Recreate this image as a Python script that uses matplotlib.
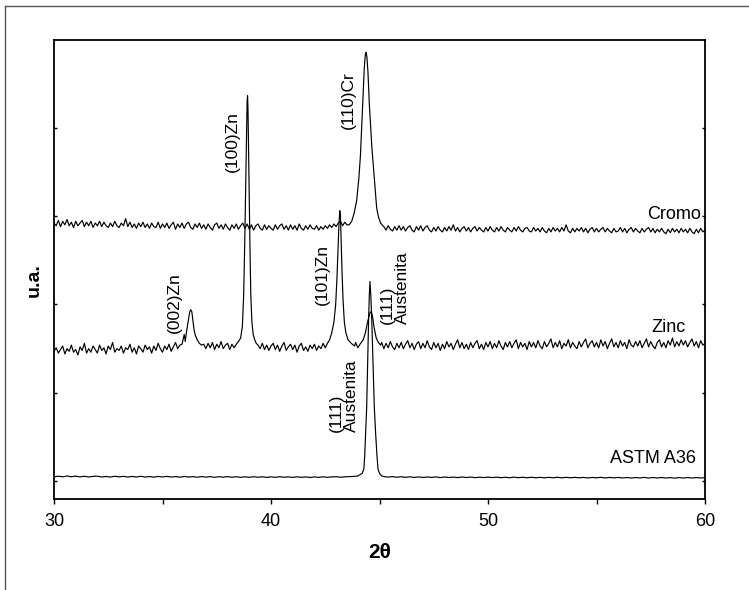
import numpy as np
import matplotlib.pyplot as plt
from matplotlib.lines import Line2D

plt.rcParams.update({
    'font.family': ['Liberation Sans', 'DejaVu Sans'],
    'font.size': 13,
})

# scan grids (2theta, degrees)
two_theta_fine = np.linspace(30, 60, 301)     # Zinc / Cromo step 0.1
two_theta_coarse = np.linspace(30, 60, 151)   # ASTM A36 step 0.2

# ---------------------------------------------------------------------------
# backgrounds (stacked intensity, arbitrary units)
# ---------------------------------------------------------------------------
zinc_bg = [
    1.47, 1.51, 1.45, 1.49, 1.53, 1.44, 1.50, 1.47, 1.54, 1.46,
    1.49, 1.43, 1.52, 1.48, 1.56, 1.45, 1.50, 1.46, 1.53, 1.49,
    1.45, 1.54, 1.48, 1.51, 1.44, 1.53, 1.49, 1.57, 1.46, 1.50,
    1.48, 1.53, 1.45, 1.51, 1.49, 1.55, 1.46, 1.51, 1.44, 1.53,
    1.50, 1.46, 1.54, 1.49, 1.52, 1.45, 1.53, 1.48, 1.56, 1.50,
    1.46, 1.53, 1.49, 1.55, 1.47, 1.52, 1.57, 1.50, 1.54, 1.55,
    1.60, 1.70, 1.85, 1.94, 1.80, 1.62, 1.57, 1.55, 1.52, 1.55,
    1.50, 1.56, 1.51, 1.57, 1.49, 1.55, 1.51, 1.58, 1.50, 1.54,
    1.56, 1.49, 1.55, 1.51, 1.57, 1.55, 1.58, 1.62, 1.90, 4.30,
    2.10, 1.75, 1.62, 1.57, 1.55, 1.50, 1.56, 1.49, 1.54, 1.48,
    1.53, 1.56, 1.49, 1.54, 1.47, 1.53, 1.57, 1.48, 1.52, 1.55,
    1.49, 1.54, 1.46, 1.53, 1.56, 1.48, 1.52, 1.47, 1.54, 1.50,
    1.55, 1.48, 1.53, 1.50, 1.56, 1.51, 1.57, 1.60, 1.68, 1.80,
    2.20, 2.90, 3.00, 2.05, 1.70, 1.60, 1.55, 1.57, 1.52, 1.57,
    1.51, 1.56, 1.62, 1.70, 1.85, 1.90, 1.86, 1.70, 1.60, 1.56,
    1.52, 1.57, 1.50, 1.56, 1.51, 1.58, 1.52, 1.49, 1.56, 1.51,
    1.57, 1.50, 1.55, 1.59, 1.51, 1.56, 1.49, 1.55, 1.58, 1.50,
    1.56, 1.51, 1.59, 1.52, 1.49, 1.57, 1.51, 1.56, 1.48, 1.55,
    1.50, 1.58, 1.52, 1.56, 1.49, 1.55, 1.60, 1.51, 1.57, 1.50,
    1.55, 1.49, 1.57, 1.51, 1.56, 1.59, 1.50, 1.55, 1.49, 1.57,
    1.52, 1.58, 1.50, 1.56, 1.51, 1.59, 1.53, 1.49, 1.57, 1.52,
    1.58, 1.51, 1.56, 1.60, 1.50, 1.57, 1.52, 1.56, 1.49, 1.58,
    1.52, 1.57, 1.51, 1.59, 1.53, 1.50, 1.58, 1.52, 1.56, 1.61,
    1.51, 1.57, 1.52, 1.59, 1.50, 1.56, 1.53, 1.60, 1.51, 1.57,
    1.53, 1.50, 1.58, 1.52, 1.57, 1.61, 1.51, 1.56, 1.59, 1.52,
    1.57, 1.51, 1.60, 1.53, 1.58, 1.50, 1.56, 1.61, 1.52, 1.57,
    1.51, 1.59, 1.53, 1.57, 1.50, 1.60, 1.54, 1.52, 1.58, 1.53,
    1.59, 1.51, 1.56, 1.61, 1.52, 1.58, 1.53, 1.50, 1.57, 1.60,
    1.52, 1.57, 1.51, 1.59, 1.54, 1.62, 1.52, 1.58, 1.53, 1.60,
    1.54, 1.59, 1.52, 1.57, 1.61, 1.53, 1.58, 1.51, 1.59, 1.54,
    1.56,
]

cromo_bg = [
    2.92, 2.89, 2.95, 2.88, 2.94, 2.90, 2.96, 2.89, 2.93, 2.87,
    2.94, 2.89, 2.92, 2.95, 2.88, 2.93, 2.89, 2.94, 2.87, 2.92,
    2.89, 2.94, 2.88, 2.93, 2.89, 2.87, 2.92, 2.88, 2.94, 2.89,
    2.87, 2.92, 2.89, 2.97, 2.88, 2.93, 2.87, 2.91, 2.86, 2.92,
    2.88, 2.93, 2.87, 2.91, 2.86, 2.92, 2.88, 2.87, 2.93, 2.86,
    2.91, 2.87, 2.92, 2.86, 2.90, 2.93, 2.85, 2.91, 2.87, 2.92,
    2.86, 2.91, 2.93, 2.87, 2.85, 2.91, 2.87, 2.92, 2.86, 2.90,
    2.85, 2.91, 2.87, 2.84, 2.90, 2.92, 2.86, 2.90, 2.85, 2.91,
    2.87, 2.84, 2.90, 2.86, 2.91, 2.85, 2.89, 2.92, 2.86, 2.91,
    2.85, 2.90, 2.84, 2.89, 2.91, 2.86, 2.84, 2.90, 2.85, 2.89,
    2.86, 2.84, 2.90, 2.85, 2.89, 2.91, 2.85, 2.89, 2.84, 2.90,
    2.85, 2.89, 2.84, 2.91, 2.86, 2.84, 2.89, 2.85, 2.90, 2.86,
    2.85, 2.89, 2.84, 2.88, 2.85, 2.89, 2.86, 2.90, 2.87, 2.91,
    2.88, 2.92, 2.94, 2.89, 2.93, 2.90, 2.91, 2.92, 2.94, 3.00,
    3.30, 3.70, 4.40, 4.85, 4.60, 4.00, 3.60, 3.30, 3.10, 2.99,
    2.92, 2.89, 2.88, 2.84, 2.89, 2.85, 2.83, 2.88, 2.84, 2.89,
    2.84, 2.88, 2.83, 2.87, 2.89, 2.84, 2.82, 2.88, 2.84, 2.89,
    2.83, 2.87, 2.89, 2.84, 2.82, 2.87, 2.83, 2.88, 2.84, 2.82,
    2.87, 2.83, 2.88, 2.84, 2.90, 2.83, 2.87, 2.82, 2.86, 2.88,
    2.83, 2.87, 2.82, 2.86, 2.88, 2.83, 2.87, 2.84, 2.82, 2.87,
    2.83, 2.88, 2.84, 2.82, 2.87, 2.83, 2.88, 2.84, 2.82, 2.87,
    2.84, 2.82, 2.87, 2.83, 2.88, 2.84, 2.82, 2.86, 2.87, 2.83,
    2.82, 2.87, 2.83, 2.86, 2.82, 2.87, 2.83, 2.81, 2.86, 2.82,
    2.87, 2.83, 2.86, 2.82, 2.87, 2.83, 2.90, 2.83, 2.81, 2.86,
    2.82, 2.86, 2.83, 2.87, 2.82, 2.86, 2.81, 2.85, 2.87, 2.82,
    2.86, 2.82, 2.85, 2.87, 2.82, 2.86, 2.83, 2.81, 2.86, 2.82,
    2.83, 2.87, 2.82, 2.86, 2.81, 2.85, 2.87, 2.82, 2.86, 2.83,
    2.81, 2.86, 2.82, 2.85, 2.87, 2.82, 2.86, 2.81, 2.85, 2.82,
    2.86, 2.82, 2.80, 2.85, 2.81, 2.86, 2.82, 2.85, 2.81, 2.86,
    2.82, 2.85, 2.81, 2.86, 2.82, 2.80, 2.85, 2.81, 2.86, 2.82,
    2.84,
]

astm_bg = [
    0.050, 0.058, 0.051, 0.060, 0.052,
    0.059, 0.050, 0.057, 0.049, 0.056,
    0.058, 0.049, 0.055, 0.048, 0.057,
    0.050, 0.056, 0.048, 0.055, 0.049,
    0.057, 0.048, 0.054, 0.047, 0.055,
    0.049, 0.056, 0.048, 0.054, 0.046,
    0.055, 0.048, 0.053, 0.046, 0.054,
    0.047, 0.053, 0.045, 0.052, 0.047,
    0.053, 0.046, 0.052, 0.045, 0.051,
    0.045, 0.052, 0.046, 0.051, 0.044,
    0.051, 0.045, 0.052, 0.046, 0.050,
    0.044, 0.051, 0.045, 0.050, 0.043,
    0.050, 0.044, 0.051, 0.045, 0.050,
    0.052, 0.046, 0.051, 0.053, 0.055,
    0.060, 0.090, 0.600, 0.300, 0.070,
    0.058, 0.051, 0.048, 0.053, 0.046,
    0.052, 0.045, 0.051, 0.044, 0.050,
    0.043, 0.049, 0.044, 0.050, 0.042,
    0.049, 0.043, 0.048, 0.042, 0.049,
    0.043, 0.048, 0.041, 0.047, 0.042,
    0.048, 0.042, 0.047, 0.041, 0.046,
    0.040, 0.047, 0.041, 0.046, 0.040,
    0.046, 0.040, 0.045, 0.039, 0.045,
    0.040, 0.046, 0.039, 0.045, 0.040,
    0.045, 0.039, 0.044, 0.038, 0.044,
    0.039, 0.045, 0.038, 0.044, 0.039,
    0.044, 0.038, 0.043, 0.037, 0.043,
    0.038, 0.044, 0.037, 0.043, 0.038,
    0.043, 0.037, 0.042, 0.036, 0.042,
    0.037, 0.043, 0.037, 0.042, 0.038,
    0.040,
]

# ---------------------------------------------------------------------------
# peak regions (denser reading)
# ---------------------------------------------------------------------------
zinc_002_x = [35.9, 36.0, 36.05, 36.1, 36.2, 36.25, 36.3, 36.35, 36.4, 36.45, 36.5, 36.6, 36.7, 36.8]
zinc_002_y = [1.55, 1.66, 1.58, 1.68, 1.83, 1.91, 1.94, 1.92, 1.82, 1.72, 1.66, 1.60, 1.56, 1.54]

zinc_100_x = [38.4, 38.5, 38.6, 38.68, 38.74, 38.79, 38.83, 38.87, 38.9, 38.92,
              38.94, 38.96, 38.99, 39.03, 39.07, 39.12, 39.18, 39.25, 39.32, 39.4]
zinc_100_y = [1.55, 1.58, 1.62, 1.75, 2.10, 2.70, 3.30, 3.90, 4.30, 4.36,
              4.20, 3.85, 3.30, 2.65, 2.10, 1.80, 1.66, 1.60, 1.56, 1.54]

zinc_101_x = [42.6, 42.7, 42.8, 42.9, 42.98, 43.04, 43.09, 43.13, 43.17, 43.2,
              43.23, 43.27, 43.32, 43.38, 43.45, 43.55, 43.7, 43.85]
zinc_101_y = [1.56, 1.60, 1.68, 1.80, 2.00, 2.30, 2.65, 2.90, 3.06, 3.00,
              2.75, 2.40, 2.05, 1.80, 1.68, 1.60, 1.56, 1.53]

zinc_111_x = [44.1, 44.25, 44.35, 44.45, 44.55, 44.62, 44.68, 44.75, 44.85, 44.95, 45.05]
zinc_111_y = [1.55, 1.60, 1.68, 1.80, 1.90, 1.92, 1.86, 1.74, 1.62, 1.57, 1.54]

cromo_110_x = [43.6, 43.72, 43.84, 43.95, 44.05, 44.12, 44.18, 44.24, 44.3, 44.35, 44.38,
               44.42, 44.47, 44.53, 44.59, 44.65, 44.72, 44.8, 44.87, 44.95, 45.05, 45.15]
cromo_110_y = [2.90, 2.94, 3.04, 3.18, 3.43, 3.68, 4.02, 4.38, 4.68, 4.83, 4.85,
               4.80, 4.62, 4.27, 4.02, 3.77, 3.55, 3.29, 3.09, 2.99, 2.92, 2.89]

astm_111_x = [44.0, 44.2, 44.28, 44.32, 44.36, 44.41, 44.45, 44.5, 44.53, 44.56,
              44.6, 44.64, 44.7, 44.76, 44.82, 44.88, 44.93, 45.0, 45.1, 45.3]
astm_111_y = [0.06, 0.09, 0.14, 0.30, 0.55, 0.84, 1.30, 1.85, 2.10, 2.26,
              2.10, 1.85, 1.35, 0.84, 0.55, 0.30, 0.14, 0.09, 0.06, 0.05]


def merge(bg_x, bg_y, peaks):
    """Replace background points inside each peak window by the peak readings."""
    x = np.asarray(bg_x, float)
    y = np.asarray(bg_y, float)
    keep = np.ones_like(x, dtype=bool)
    for px, py in peaks:
        keep &= (x < min(px)) | (x > max(px))
    xs = [x[keep]] + [np.asarray(px, float) for px, _ in peaks]
    ys = [y[keep]] + [np.asarray(py, float) for _, py in peaks]
    xs = np.concatenate(xs)
    ys = np.concatenate(ys)
    order = np.argsort(xs)
    return xs[order], ys[order]


zinc_x, zinc_y = merge(two_theta_fine, zinc_bg,
                       [(zinc_002_x, zinc_002_y), (zinc_100_x, zinc_100_y),
                        (zinc_101_x, zinc_101_y), (zinc_111_x, zinc_111_y)])
cromo_x, cromo_y = merge(two_theta_fine, cromo_bg, [(cromo_110_x, cromo_110_y)])
astm_x, astm_y = merge(two_theta_coarse, astm_bg, [(astm_111_x, astm_111_y)])

W, H = 749, 590
fig = plt.figure(figsize=(W / 100, H / 100), dpi=100)
ax = fig.add_axes([54 / W, (H - 499) / H, 651 / W, 459 / H])

for xs, ys in [(astm_x, astm_y), (zinc_x, zinc_y), (cromo_x, cromo_y)]:
    ax.plot(xs, ys, color='black', linewidth=0.85)

ax.set_xlim(30, 60)
ax.set_ylim(-0.2, 4.99)
ax.set_xticks([30, 40, 50, 60])
ax.set_xticks([35, 45, 55], minor=True)
ax.set_yticks([0, 1, 2, 3, 4])
ax.tick_params(axis='x', which='both', direction='out', length=3.3, width=1.0,
               pad=7, labelsize=13)
ax.tick_params(axis='y', which='both', left=True, right=True, labelleft=False,
               direction='in', length=2, width=1.0)
for sp in ax.spines.values():
    sp.set_linewidth(1.3)

# peak labels
rot_kw = dict(rotation=90, fontsize=12.5, ha='center')
ax.text(35.54, 2.02, '(002)Zn', va='center', **rot_kw)
ax.text(38.20, 3.84, '(100)Zn', va='center', **rot_kw)
ax.text(42.39, 2.34, '(101)Zn', va='center', **rot_kw)
ax.text(43.56, 4.31, '(110)Cr', va='center', **rot_kw)
ax.text(45.71, 1.78, '(111)\nAustenita', va='bottom', multialignment='left',
        linespacing=1.0, **rot_kw)
ax.text(43.37, 0.56, '(111)\nAustenita', va='bottom', multialignment='left',
        linespacing=1.0, **rot_kw)

# series names
ax.text(59.80, 3.02, 'Cromo', ha='right', va='center', fontsize=13)
ax.text(59.12, 1.74, 'Zinc', ha='right', va='center', fontsize=13)
ax.text(59.59, 0.256, 'ASTM A36', ha='right', va='center', fontsize=13)

# axis titles
fig.text(34 / W, 1 - 280 / H, 'u.a.', rotation=90, ha='center', va='center',
         fontsize=14, fontweight='bold')
fig.text(380 / W, 1 - 553 / H, '2θ', ha='center', va='center',
         fontsize=15, fontweight='bold')

# outer frame (left and top edges)
fig.add_artist(Line2D([4.7 / W, 4.7 / W], [0, 1 - 6.3 / H], transform=fig.transFigure,
                      color='#555555', linewidth=1.0))
fig.add_artist(Line2D([4.7 / W, 1], [1 - 6.3 / H, 1 - 6.3 / H], transform=fig.transFigure,
                      color='#555555', linewidth=1.0))

fig.savefig('out.png', dpi=100)
